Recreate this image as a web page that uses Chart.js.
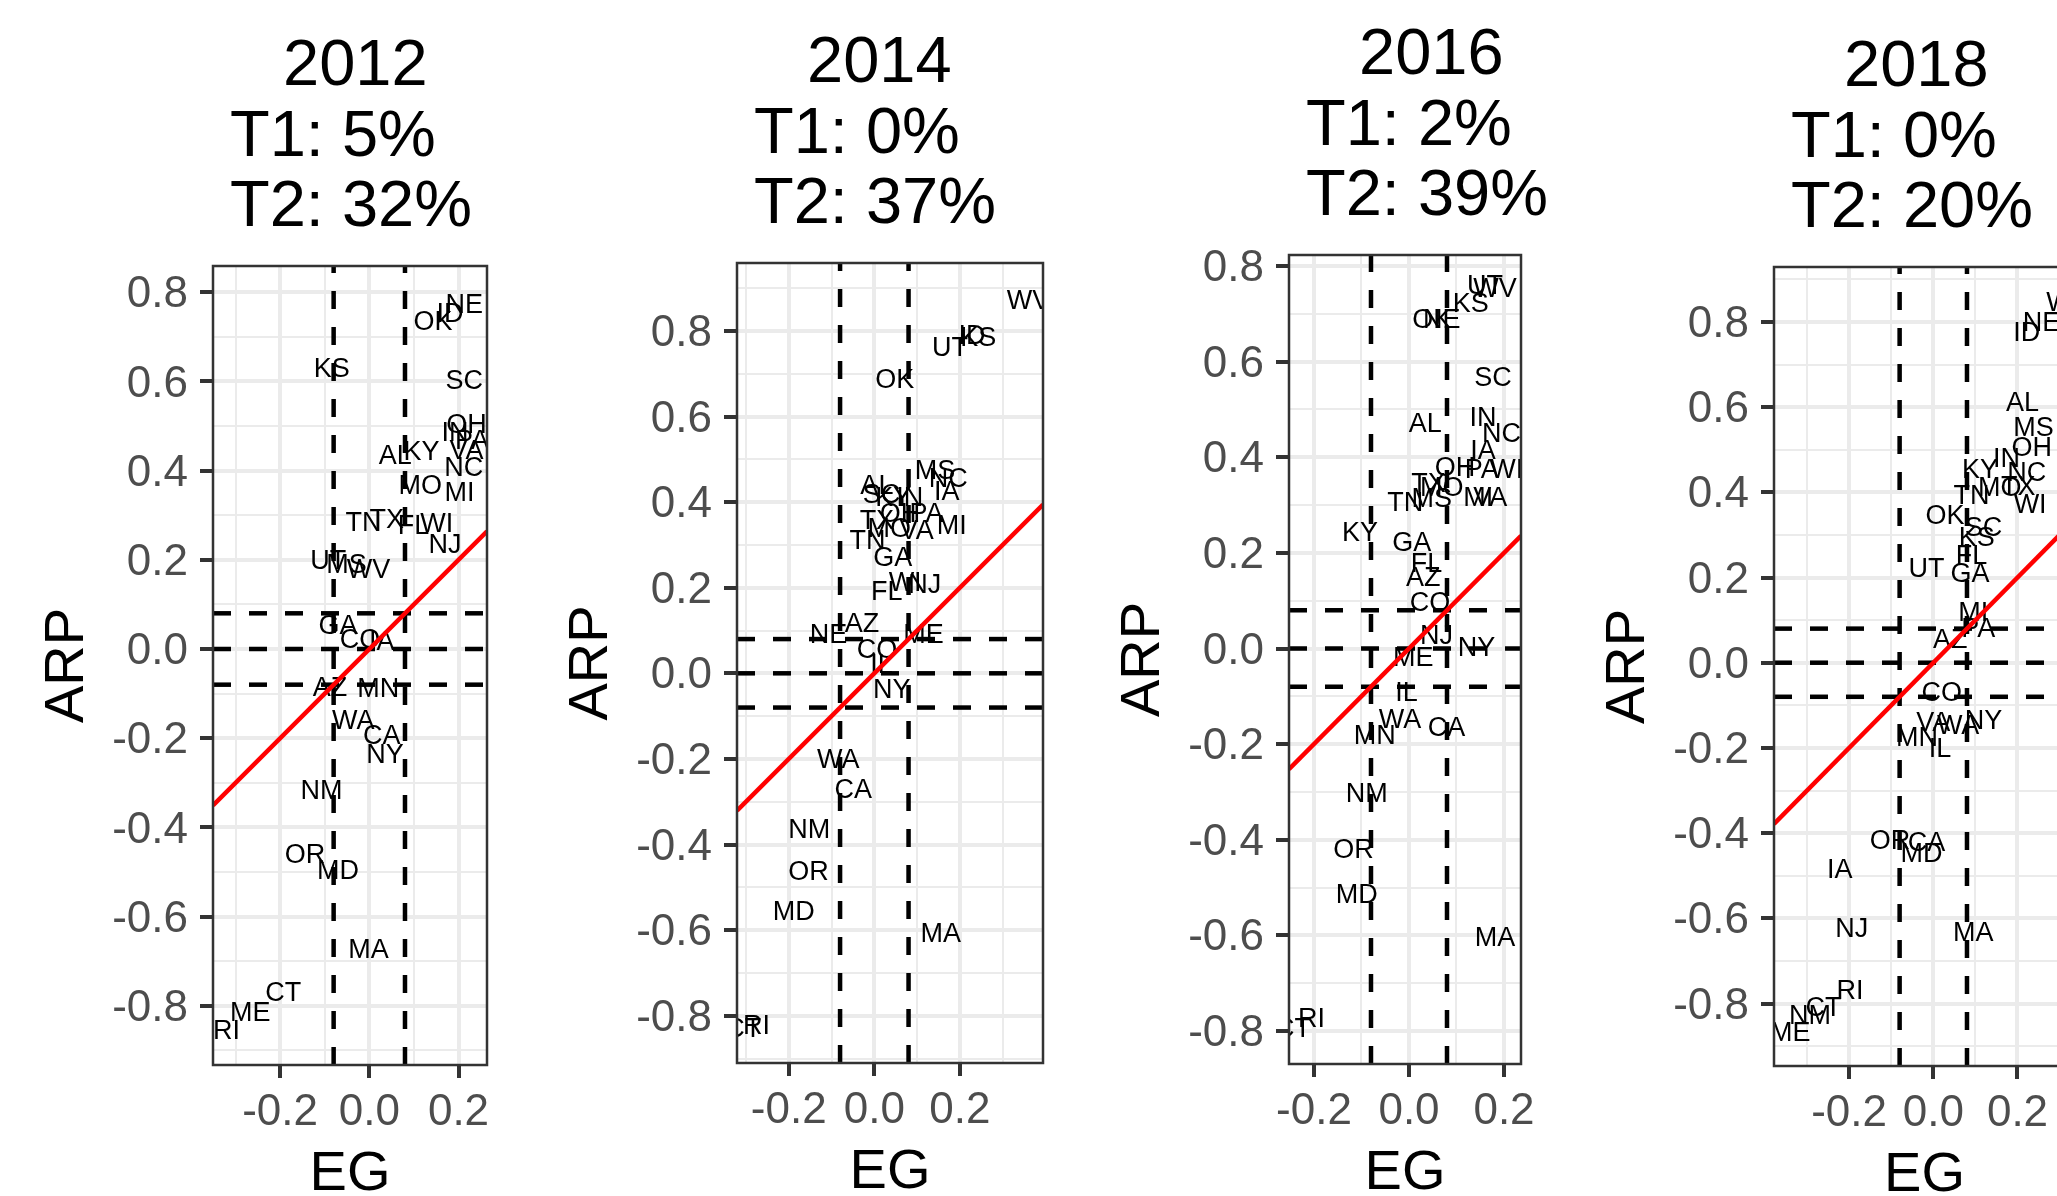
<!DOCTYPE html>
<html>
<head>
<meta charset="utf-8">
<title>ARP vs EG by election year</title>
<script src="https://cdn.jsdelivr.net/npm/chart.js@4.4.1/dist/chart.umd.min.js"></script>
<style>
  html, body { margin: 0; padding: 0; background: #ffffff; overflow: hidden; }
  #wrap { position: relative; width: 2057px; height: 1196px; overflow: hidden; background: #ffffff; }
  #wrap canvas { position: absolute; top: 0; }
</style>
</head>
<body>
<div id="wrap"></div>
<script>
// ---- values ----
const years = ['2012', '2014', '2016', '2018'];
const t1Share = ['5%', '0%', '2%', '0%'];
const t2Share = ['32%', '37%', '39%', '20%'];

const xMajorTicks = [-0.2, 0, 0.2];
const yMajorTicks = [-0.8, -0.6, -0.4, -0.2, 0, 0.2, 0.4, 0.6, 0.8];

const egCutoffs = [-0.08, 0.08];
const arpCutoffs = [-0.08, 0, 0.08];

const states2012 = ['NE','ID','OK','KS','SC','OH','IN','PA','VA','AL','KY','NC','MO','MI','TN','TX','FL','WI','NJ','UT','MS','WV','GA','CO','IA','AZ','MN','WA','CA','NY','NM','OR','MD','MA','CT','ME','RI'];
const eg2012 = [0.213,0.181,0.143,-0.084,0.213,0.218,0.192,0.23,0.218,0.058,0.117,0.212,0.114,0.202,-0.013,0.039,0.099,0.151,0.17,-0.092,-0.051,-0.002,-0.07,-0.021,0.028,-0.088,0.02,-0.036,0.028,0.035,-0.107,-0.144,-0.07,-0.002,-0.193,-0.267,-0.32];
const arp2012 = [0.771,0.75,0.732,0.626,0.599,0.502,0.484,0.465,0.442,0.431,0.44,0.405,0.364,0.349,0.282,0.289,0.274,0.278,0.233,0.196,0.186,0.177,0.05,0.02,0.014,-0.088,-0.092,-0.163,-0.197,-0.238,-0.32,-0.462,-0.499,-0.675,-0.772,-0.817,-0.858];

const states2014 = ['WV','KS','ID','UT','OK','MS','NC','IA','AL','SC','KY','IN','OH','PA','TX','MO','VA','MI','TN','GA','WI','NJ','FL','NE','AZ','ME','CO','IL','NY','WA','CA','NM','OR','MD','MA','RI','CT'];
const eg2014 = [0.36,0.243,0.228,0.177,0.048,0.142,0.173,0.169,0.006,0.017,0.044,0.083,0.06,0.122,0.006,0.035,0.099,0.181,-0.016,0.043,0.072,0.118,0.029,-0.107,-0.029,0.115,0.006,0.017,0.041,-0.084,-0.049,-0.152,-0.154,-0.188,0.155,-0.275,-0.306];
const arp2014 = [0.868,0.783,0.786,0.759,0.683,0.471,0.452,0.423,0.436,0.415,0.409,0.409,0.37,0.37,0.354,0.337,0.332,0.343,0.309,0.269,0.21,0.206,0.189,0.089,0.113,0.088,0.054,0.019,-0.041,-0.203,-0.274,-0.368,-0.466,-0.558,-0.611,-0.826,-0.833];

const states2016 = ['WV','UT','KS','OK','NE','SC','AL','IN','NC','IA','OH','PA','WI','TX','MO','MS','TN','MI','VA','KY','GA','FL','AZ','CO','NJ','NY','ME','IL','WA','CA','MN','NM','OR','MD','MA','RI','CT'];
const eg2016 = [0.181,0.16,0.13,0.048,0.069,0.177,0.034,0.156,0.195,0.156,0.097,0.153,0.206,0.041,0.069,0.048,-0.008,0.146,0.171,-0.103,0.006,0.037,0.03,0.044,0.058,0.142,0.009,-0.005,-0.019,0.079,-0.072,-0.089,-0.117,-0.11,0.181,-0.205,-0.244];
const arp2016 = [0.751,0.757,0.719,0.687,0.687,0.565,0.468,0.482,0.447,0.412,0.377,0.373,0.372,0.342,0.335,0.312,0.304,0.314,0.314,0.241,0.22,0.175,0.147,0.095,0.025,0.0,-0.02,-0.094,-0.15,-0.167,-0.185,-0.306,-0.422,-0.516,-0.606,-0.777,-0.798];

const states2018 = ['WV','NE','ID','AL','MS','OH','IN','KY','NC','MO','TX','TN','WI','OK','SC','KS','FL','UT','GA','MI','PA','AZ','CO','VA','WA','NY','MN','IL','OR','CA','MD','IA','NJ','MA','RI','CT','NM','ME'];
const eg2018 = [0.32,0.257,0.222,0.212,0.238,0.234,0.174,0.111,0.222,0.158,0.202,0.091,0.23,0.028,0.119,0.103,0.091,-0.016,0.087,0.095,0.107,0.04,0.02,0.0,0.059,0.119,-0.039,0.016,-0.103,-0.016,-0.028,-0.222,-0.194,0.095,-0.198,-0.261,-0.293,-0.34];
const arp2018 = [0.844,0.797,0.773,0.609,0.55,0.503,0.476,0.452,0.445,0.409,0.412,0.39,0.37,0.343,0.315,0.292,0.249,0.218,0.206,0.116,0.077,0.053,-0.072,-0.142,-0.15,-0.139,-0.178,-0.205,-0.42,-0.424,-0.451,-0.487,-0.627,-0.635,-0.772,-0.811,-0.831,-0.87];

const panelStates = [states2012, states2014, states2016, states2018];
const panelEG = [eg2012, eg2014, eg2016, eg2018];
const panelARP = [arp2012, arp2014, arp2016, arp2018];

// ---- page geometry (px) and axis ranges per panel ----
const panelBoxes = [
  { left: 213,  right: 487,  top: 266, bottom: 1065, xMin: -0.3505, xMax: 0.2639, yMin: -0.9327, yMax: 0.8587 },
  { left: 737,  right: 1043, top: 263, bottom: 1063, xMin: -0.3208, xMax: 0.3941, yMin: -0.9105, yMax: 0.9587 },
  { left: 1289, right: 1521, top: 255, bottom: 1064, xMin: -0.2526, xMax: 0.2358, yMin: -0.8692, yMax: 0.8232 },
  { left: 1774, right: 2075, top: 267, bottom: 1066, xMin: -0.3784, xMax: 0.3366, yMin: -0.9467, yMax: 0.9289 }
];
const PAGE_H = 1196;
const AXIS_W = 200;
const PAD_R = 60;
const FONT = '"Liberation Sans", Arial, Helvetica, sans-serif';

// ---- helpers ----
function isMajor(majors, v) {
  return majors.some(m => Math.abs(m - v) < 1e-9);
}
function gridValues(min, max) {
  const out = [];
  for (let k = Math.ceil(min * 10 - 1e-9); k <= Math.floor(max * 10 + 1e-9); k++) out.push(k / 10);
  return out;
}
function fmt(v) {
  return (Math.abs(v) < 1e-9 ? 0 : v).toFixed(1);
}

// state abbreviations written at each point, clipped to the panel
const stateText = {
  id: 'stateText',
  beforeDatasetsDraw(chart, args, opts) {
    const meta = chart.getDatasetMeta(0);
    const a = chart.chartArea;
    const ctx = chart.ctx;
    ctx.save();
    ctx.beginPath();
    ctx.rect(a.left, a.top, a.right - a.left, a.bottom - a.top);
    ctx.clip();
    ctx.font = '27px ' + FONT;
    ctx.fillStyle = '#000000';
    ctx.textAlign = 'center';
    ctx.textBaseline = 'middle';
    meta.data.forEach((pt, k) => ctx.fillText(opts.names[k], pt.x, pt.y));
    ctx.restore();
  }
};

// panel frame, headings and axis titles
const panelDecor = {
  id: 'panelDecor',
  afterDatasetsDraw(chart) {
    const a = chart.chartArea;
    const ctx = chart.ctx;
    ctx.save();
    ctx.strokeStyle = '#333333';
    ctx.lineWidth = 2.5;
    ctx.strokeRect(a.left, a.top, a.right - a.left, a.bottom - a.top);
    ctx.restore();
  },
  afterDraw(chart, args, opts) {
    const a = chart.chartArea;
    const ctx = chart.ctx;
    ctx.save();
    ctx.fillStyle = '#000000';
    ctx.textAlign = 'left';
    ctx.textBaseline = 'alphabetic';
    ctx.font = '65px ' + FONT;
    ctx.fillText(opts.year, a.left + 70, a.top - 181);
    ctx.fillText('T1: ' + opts.t1, a.left + 17, a.top - 110);
    ctx.fillText('T2: ' + opts.t2, a.left + 17, a.top - 40);

    ctx.font = '56px ' + FONT;
    ctx.textAlign = 'center';
    ctx.fillText('EG', (a.left + a.right) / 2, a.bottom + 125);

    ctx.translate(a.left - 145, (a.top + a.bottom) / 2);
    ctx.rotate(-Math.PI / 2);
    ctx.textBaseline = 'middle';
    ctx.fillText('ARP', 0, 0);
    ctx.restore();
  }
};

function axisOptions(majors, min, max, isX, box) {
  return {
    type: 'linear',
    position: isX ? 'bottom' : 'left',
    min: min,
    max: max,
    afterBuildTicks: s => { s.ticks = gridValues(min, max).map(v => ({ value: v })); },
    afterFit: s => {
      if (isX) s.height = PAGE_H - box.bottom;
      else s.width = AXIS_W;
    },
    ticks: {
      autoSkip: false,
      maxRotation: 0,
      minRotation: 0,
      padding: isX ? 8 : 12,
      labelOffset: isX ? 0 : 3,
      color: '#4D4D4D',
      font: { family: FONT, size: 44 },
      callback: v => isMajor(majors, v) ? fmt(v) : ''
    },
    grid: {
      color: '#EBEBEB',
      lineWidth: c => (c.tick && isMajor(majors, c.tick.value)) ? 4 : 2,
      tickColor: c => (c.tick && isMajor(majors, c.tick.value)) ? '#333333' : 'rgba(0,0,0,0)',
      tickWidth: 4,
      tickLength: 13,
      drawTicks: true,
      drawOnChartArea: true
    },
    border: { display: false }
  };
}

const wrap = document.getElementById('wrap');

panelBoxes.forEach((box, i) => {
  const cv = document.createElement('canvas');
  const w = box.right - box.left + AXIS_W + PAD_R;
  cv.width = w;
  cv.height = PAGE_H;
  cv.style.width = w + 'px';
  cv.style.height = PAGE_H + 'px';
  cv.style.left = (box.left - AXIS_W) + 'px';
  wrap.appendChild(cv);

  const eg = panelEG[i];
  const arp = panelARP[i];

  const dashStyle = { showLine: true, borderColor: '#000000', borderWidth: 4.5, borderDash: [18, 18],
                      pointRadius: 0, pointHoverRadius: 0, fill: false, clip: 0, order: 1 };

  const datasets = [
    { label: 'states', data: eg.map((x, k) => ({ x: x, y: arp[k] })),
      pointRadius: 0, pointHoverRadius: 0, showLine: false, order: 2 },
    ...egCutoffs.map(c => Object.assign({ label: 'EG ' + c, data: [{ x: c, y: box.yMin }, { x: c, y: box.yMax }] }, dashStyle)),
    ...arpCutoffs.map(c => Object.assign({ label: 'ARP ' + c, data: [{ x: box.xMin, y: c }, { x: box.xMax, y: c }] }, dashStyle)),
    { label: 'ARP = EG', data: [{ x: box.xMin, y: box.xMin }, { x: box.xMax, y: box.xMax }],
      showLine: true, borderColor: '#FF0000', borderWidth: 4.5, pointRadius: 0, pointHoverRadius: 0,
      fill: false, clip: 0, order: 0 }
  ];

  new Chart(cv, {
    type: 'scatter',
    data: { datasets: datasets },
    options: {
      responsive: false,
      animation: false,
      events: [],
      layout: { padding: { left: 0, top: box.top, right: PAD_R, bottom: 0 } },
      plugins: {
        legend: { display: false },
        tooltip: { enabled: false },
        title: { display: false },
        stateText: { names: panelStates[i] },
        panelDecor: { year: years[i], t1: t1Share[i], t2: t2Share[i] }
      },
      scales: {
        x: axisOptions(xMajorTicks, box.xMin, box.xMax, true, box),
        y: axisOptions(yMajorTicks, box.yMin, box.yMax, false, box)
      }
    },
    plugins: [stateText, panelDecor]
  });
});
</script>
</body>
</html>
